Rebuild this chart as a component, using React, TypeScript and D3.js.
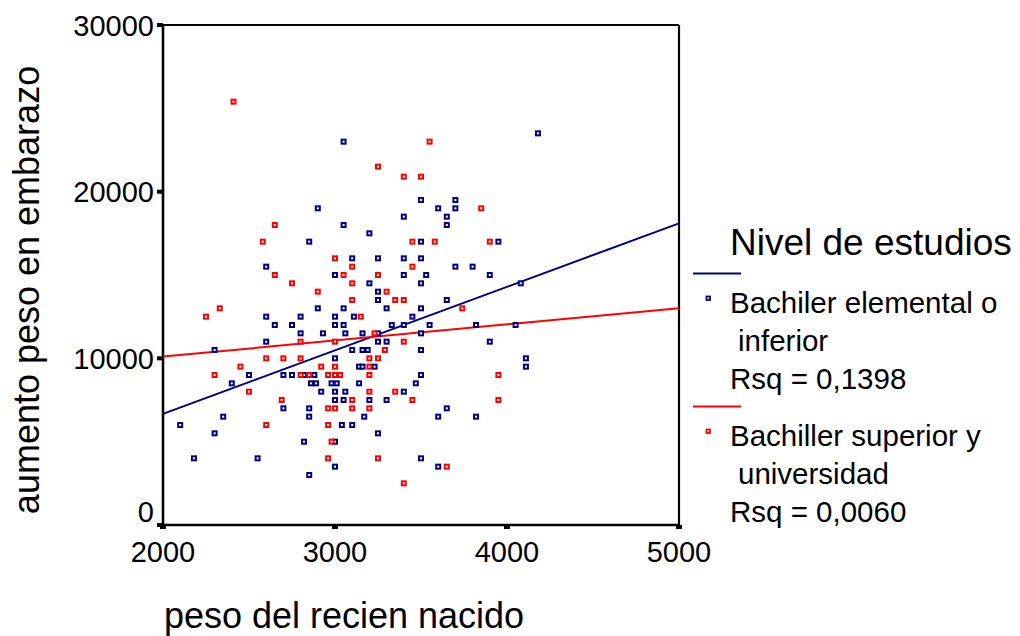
import React from "react";
import * as d3 from "d3";

// birth weight (g), weight gain in pregnancy (g)
const bachilerElemental: [number, number][] = [
  [3050,23000],[4180,23500],[2900,19000],[3050,18000],[2850,17000],[3100,16000],[2600,15500],[3000,15000],
  [2900,13000],[3050,13000],[2600,12500],[2800,12500],[3000,12500],[3110,12500],
  [3500,19500],[3700,19500],[3600,19000],[3700,19000],[3400,18500],[3650,18500],[3650,18000],[3200,17500],
  [3500,17000],[3950,17000],[3250,16000],[3400,16000],[3500,16000],[3700,15500],[3800,15500],[3400,15000],
  [3530,15000],[3900,15000],[3200,14500],[3500,14500],[4080,14500],[3250,14000],[3250,13500],[3650,13500],
  [3300,13000],[3500,13000],[3450,12500],
  [2650,12000],[2750,12000],[3000,12000],[3050,12000],[3330,12000],[3400,12000],[3550,12000],[3820,12000],[4050,12000],
  [2800,11500],[2930,11500],[3060,11500],[3160,11500],[3250,11500],[3500,11500],
  [2600,11000],[3250,11000],[3300,11000],[3900,11000],
  [2300,10500],[3100,10500],[3160,10500],[3190,10500],[3500,10500],
  [3000,10000],[4110,10000],
  [3140,9500],[3160,9500],[3230,9500],[4110,9500],
  [2500,9000],[2700,9000],[2750,9000],[2820,9000],[2880,9000],[3500,9000],
  [2400,8500],[2860,8500],[2890,8500],[2980,8500],[3010,8500],[3140,8500],[3470,8500],
  [2920,8000],[3000,8000],[3060,8000],[3400,8000],
  [3000,7500],[3050,7500],[3200,7500],[3300,7500],
  [2700,7000],[2850,7000],[3650,7000],
  [2350,6500],[2850,6500],[3170,6500],[3600,6500],[3820,6500],
  [2100,6000],[3040,6000],[3100,6000],
  [2300,5500],[3250,5500],
  [2820,5000],[3000,5000],
  [2180,4000],[2550,4000],[3500,4000],
  [3000,3500],[3600,3500],
  [2850,3000],
];

const bachillerSuperior: [number, number][] = [
  [2410,25400],[3250,21500],[3400,20900],[3500,20900],[3550,23000],[3850,19000],[2650,18000],[2580,17000],
  [3450,17000],[3580,17000],[3900,17000],[3000,16000],[3100,15500],[3450,15500],[2650,15000],[3050,15000],
  [3250,15000],[2750,14500],[3100,14500],[2900,14000],[3300,14000],[3100,13500],[3350,13500],[3400,13500],
  [2330,13000],[3740,13000],[2250,12500],[3150,12500],
  [3230,11500],[2800,11000],[3000,11000],[3400,11000],[3290,10500],
  [2600,10000],[2700,10000],[2800,10000],[3200,10000],[3250,10000],
  [2450,9500],[2920,9500],[3000,9500],[3200,9500],
  [2300,9000],[2800,9000],[2850,9000],[2960,9000],[3000,9000],[3030,9000],[3200,9000],[3950,9000],
  [2500,8000],[3200,8000],[3350,8000],
  [2690,7500],[3100,7500],[3450,7500],[3950,7500],
  [2960,7000],[3000,7000],[3100,7000],[3200,7000],
  [2600,6000],[2960,6000],
  [2980,5000],
  [2960,4000],[3250,4000],
  [3650,3500],
  [3400,2500],
];

const groupNames = ["Bachiler elemental o", "Bachiller superior y"];
const groupNames2 = ["inferior", "universidad"];
const rsqLabels = ["Rsq = 0,1398", "Rsq = 0,0060"];
const fitIntercepts = [-950, 8170];
const fitSlopes = [3.81, 0.967];
const xTicks = [2000, 3000, 4000, 5000];
const yTicks = [0, 10000, 20000, 30000];

const colors = ["#000080", "#ff0000"];
const FONT = "'Liberation Sans', Arial, Helvetica, sans-serif";

export default function App() {
  const W = 1020, H = 636;
  const x = d3.scaleLinear().domain([2000, 5000]).range([163, 679]);
  const y = d3.scaleLinear().domain([0, 30000]).range([525, 25]);
  const groups = [bachilerElemental, bachillerSuperior];
  const fitLine = d3.line<[number, number]>().x((d) => x(d[0])).y((d) => y(d[1]));

  return (
    <svg width={W} height={H} style={{ position: "absolute", left: 0, top: 0, background: "#fff" }} fontFamily={FONT}>
      <rect x={0} y={0} width={W} height={H} fill="#fff" />
      {/* frame */}
      <line x1={x(2000)} x2={x(5000)} y1={y(30000)} y2={y(30000)} stroke="#000" strokeWidth={2} />
      <line x1={x(5000)} x2={x(5000)} y1={y(30000)} y2={y(0)} stroke="#000" strokeWidth={2.2} />
      <line x1={x(2000)} x2={x(2000)} y1={y(30000) - 1} y2={y(0) + 1} stroke="#000" strokeWidth={2.6} />
      <line x1={x(2000) - 1} x2={x(5000) + 1} y1={y(0)} y2={y(0)} stroke="#000" strokeWidth={2.6} />
      {/* regression lines */}
      {groups.map((_, i) => {
        const pts = [2000, 5000].map((v) => [v, fitIntercepts[i] + fitSlopes[i] * v] as [number, number]);
        return <path key={"fit" + i} d={fitLine(pts) || ""} stroke={colors[i]} strokeWidth={2} fill="none" />;
      })}
      {/* points */}
      {groups.map((g, i) =>
        g.map((p, j) => (
          <rect key={i + "-" + j} x={x(p[0]) - 2} y={y(p[1]) - 2} width={4} height={4} fill="#fff" stroke={colors[i]} strokeWidth={2} />
        ))
      )}
      {/* y ticks */}
      {yTicks.map((t) => (
        <g key={"yt" + t}>
          <rect x={x(2000) - 6} y={y(t) - 2} width={6} height={4} fill="#000" />
          <text x={x(2000) - 9} y={t === 0 ? y(t) - 3 : y(t) + 10.5} fontSize={29} textAnchor="end" fill="#000">{t}</text>
        </g>
      ))}
      {/* x ticks */}
      {xTicks.map((t) => (
        <g key={"xt" + t}>
          <rect x={x(t) - 3} y={y(0)} width={6} height={4} fill="#000" />
          <text x={x(t)} y={y(0) + 37} fontSize={29} textAnchor="middle" fill="#000">{t}</text>
        </g>
      ))}
      {/* axis titles */}
      <text x={344} y={628} fontSize={36} textAnchor="middle" fill="#000">peso del recien nacido</text>
      <text transform={`translate(39,${290}) rotate(-90)`} fontSize={36} textAnchor="middle" fill="#000">aumento peso en embarazo</text>
      {/* legend */}
      <text x={730} y={255} fontSize={37} fill="#000">Nivel de estudios</text>
      {groups.map((_, i) => {
        const oy = i * 133;
        return (
          <g key={"lg" + i}>
            <line x1={693} x2={741} y1={273.5 + oy} y2={273.5 + oy} stroke={colors[i]} strokeWidth={2} />
            <rect x={706.5} y={296.5 + oy} width={3.5} height={3.5} fill="#fff" stroke={colors[i]} strokeWidth={1.8} />
            <text x={730} y={313 + oy} fontSize={29.5} fill="#000">{groupNames[i]}</text>
            <text x={738} y={351 + oy} fontSize={29.5} fill="#000">{groupNames2[i]}</text>
            <text x={730} y={389 + oy} fontSize={29.5} fill="#000">{rsqLabels[i]}</text>
          </g>
        );
      })}
    </svg>
  );
}
